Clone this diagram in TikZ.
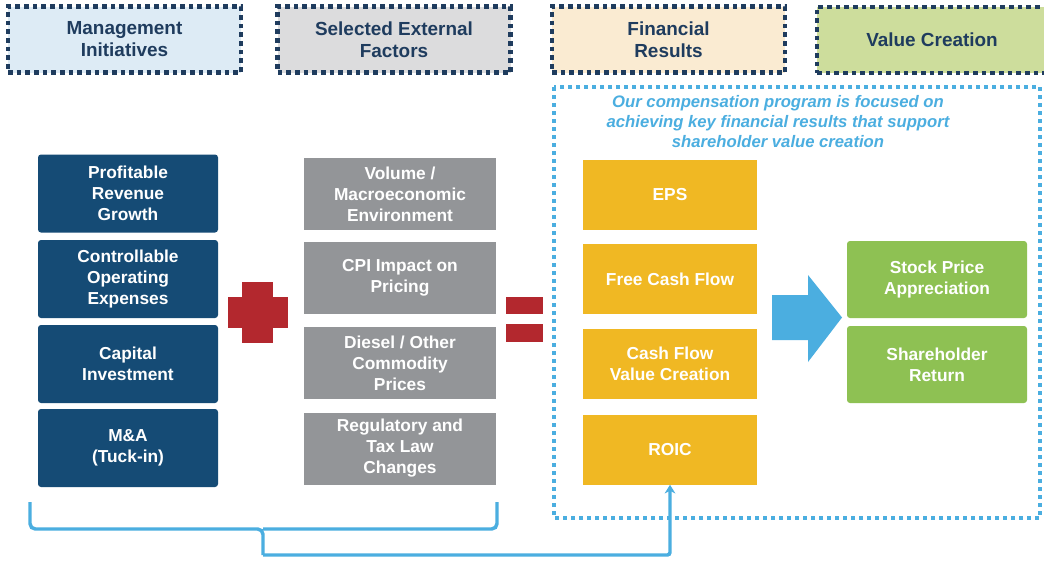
\documentclass[tikz,border=0pt]{standalone}
\usepackage{fontspec}
\setmainfont{Liberation Sans}
\usetikzlibrary{arrows.meta}
\definecolor{navy}{HTML}{1F3C5E}
\definecolor{hdrblue}{HTML}{DDEBF5}
\definecolor{hdrgray}{HTML}{DCDCDD}
\definecolor{hdrtan}{HTML}{FAEBD2}
\definecolor{hdrgreen}{HTML}{CDDD9C}
\definecolor{boxblue}{HTML}{154B75}
\definecolor{boxgray}{HTML}{939598}
\definecolor{boxyellow}{HTML}{F0B823}
\definecolor{boxgreen}{HTML}{8EC153}
\definecolor{sky}{HTML}{4BAEE0}
\definecolor{plusred}{HTML}{B3282E}
\begin{document}
\begin{tikzpicture}[x=0.75pt,y=-0.75pt,
  hdr/.style={draw=navy, line width=3.4pt, dash pattern=on 3.5pt off 3pt,
    text=navy, font=\fontsize{14.2}{16.5}\selectfont\bfseries, align=center,
    minimum width=174.75pt, minimum height=49.5pt, inner sep=0pt},
  item/.style={text=white, font=\fontsize{13}{15.75}\selectfont\bfseries,
    align=center, inner sep=0pt},
  bluebox/.style={item, fill=boxblue, rounded corners=2.25pt, minimum width=135pt, minimum height=58.5pt},
  graybox/.style={item, fill=boxgray, minimum width=144pt, minimum height=54pt},
  yellowbox/.style={item, fill=boxyellow, minimum width=130.5pt, minimum height=52.5pt},
  greenbox/.style={item, fill=boxgreen, rounded corners=2.25pt, minimum width=135pt, minimum height=57.75pt},
  skyline/.style={draw=sky, line width=2.6pt},
]
\useasboundingbox[fill=white] (0,0) rectangle (1044,561);
\begin{scope}
\clip (0,0) rectangle (1044,561);
% headers
\node[hdr, fill=hdrblue] (h1) at (124.5,39.5) {Management\\Initiatives};
\node[hdr, fill=hdrgray] (h2) at (394,39.5) {Selected External\\Factors};
\node[hdr, fill=hdrtan] (h3) at (668.5,39.5) {Financial\\Results};
\node[hdr, fill=hdrgreen, minimum width=172.5pt] (h4) at (932,40) {Value Creation};
\end{scope}
% dotted frame
\draw[sky, line width=2.8pt, dash pattern=on 3pt off 3pt] (554,87) rectangle (1040,518);
\node[text=sky, font=\fontsize{12.5}{15}\selectfont\bfseries\itshape, align=center] (note) at (778,122)
  {Our compensation program is focused on\\achieving key financial results that support\\shareholder value creation};
% management initiatives
\node[bluebox] (b1) at (128,193.5) {Profitable\\Revenue\\Growth};
\node[bluebox] (b2) at (128,279) {Controllable\\Operating\\Expenses};
\node[bluebox] (b3) at (128,364) {Capital\\Investment};
\node[bluebox] (b4) at (128,448) {M\&A\\(Tuck-in)};
% external factors
\node[graybox] (g1) at (400,194) {Volume /\\Macroeconomic\\Environment};
\node[graybox] (g2) at (400,278) {CPI Impact on\\Pricing};
\node[graybox] (g3) at (400,363) {Diesel / Other\\Commodity\\Prices};
\node[graybox] (g4) at (400,448.5) {Regulatory and\\Tax Law\\Changes};
% financial results
\node[yellowbox] (y1) at (670,195) {EPS};
\node[yellowbox] (y2) at (670,279) {Free Cash Flow};
\node[yellowbox] (y3) at (670,364) {Cash Flow\\Value Creation};
\node[yellowbox] (y4) at (670,449.5) {ROIC};
% value creation
\node[greenbox] (v1) at (937,279.5) {Stock Price\\Appreciation};
\node[greenbox] (v2) at (937,364.5) {Shareholder\\Return};
% plus
\fill[plusred] (242,282) rectangle (273,343);
\fill[plusred] (228,297) rectangle (288,328);
% equals
\fill[plusred] (506,297) rectangle (543,314);
\fill[plusred] (506,324) rectangle (543,342);
% big arrow
\fill[sky] (772,295) -- (808,295) -- (808,275) -- (842,317.5) -- (808,362) -- (808,340) -- (772,340) -- cycle;
% brace and connector
\coordinate (bl) at (30,502);
\coordinate (br) at (497,502);
\coordinate (bt) at (263,555);
\draw[skyline, rounded corners=4pt] (bl) -- (30,529) -- (263,529) -- (bt);
\draw[skyline, rounded corners=4pt] (br) -- (497,529) -- (263,529);
\draw[skyline, rounded corners=2pt, -{Stealth[length=6.5pt,width=8pt,inset=2pt]}] (bt) -| (y4.south);
\end{tikzpicture}
\end{document}
